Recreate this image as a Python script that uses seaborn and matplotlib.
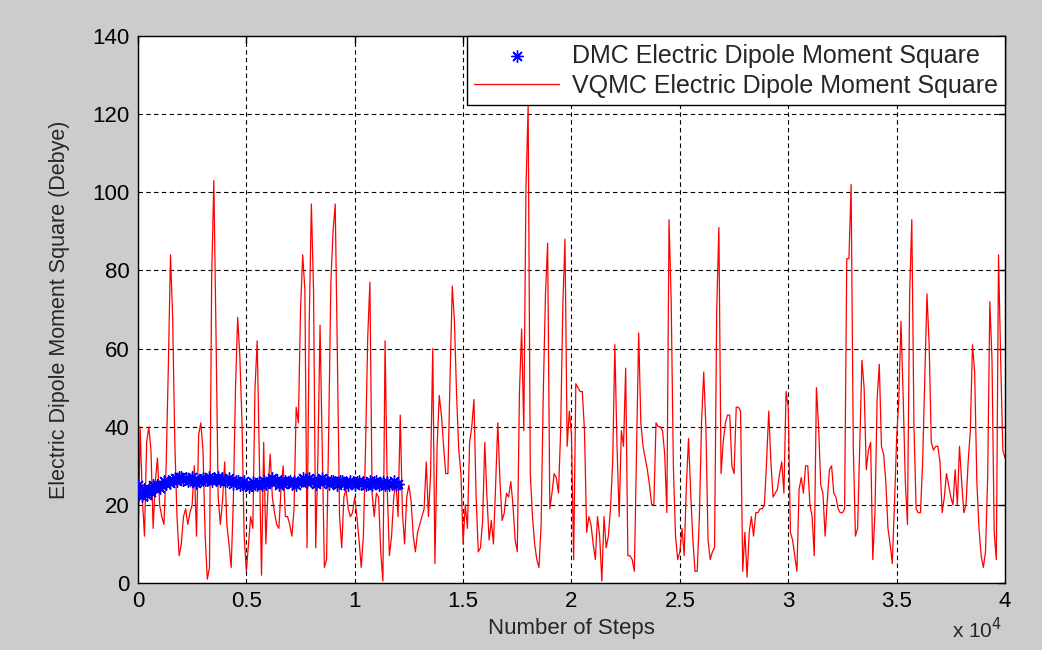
from matplotlib import pyplot as plt
import seaborn as sns
import numpy as np
import pandas as pd

# VQMC hodnoty, jedna hodnota kazdych 100 kroku (0 .. 40000)
vqmc_vals = [
    6, 40, 22, 12, 36, 40, 34, 14, 26, 32,
    20, 17, 15, 30, 55, 84, 68, 36, 17, 7,
    10, 17, 19, 15, 18, 20, 30, 12, 38, 41,
    34, 12, 1, 4, 78, 103, 64, 22, 15, 21,
    31, 15, 10, 4, 21, 50, 68, 58, 41, 12,
    3, 10, 17, 14, 50, 62, 32, 2, 36, 10,
    24, 33, 22, 18, 15, 14, 24, 30, 17, 17,
    15, 12, 19, 45, 41, 70, 84, 75, 9, 66,
    97, 75, 9, 32, 66, 35, 4, 6, 39, 77,
    90, 97, 58, 17, 9, 22, 24, 19, 17, 18,
    22, 17, 11, 4, 12, 35, 63, 77, 23, 17,
    23, 22, 8, 0.5, 62, 24, 7, 12, 22, 26,
    17, 43, 18, 10, 22, 25, 21, 12, 8, 13,
    15, 17, 19, 31, 17, 28, 60, 5, 35, 48,
    43, 35, 28, 28, 53, 76, 67, 48, 34, 28,
    10, 20, 14, 36, 40, 47, 22, 8, 9, 16,
    36, 22, 11, 16, 10, 25, 41, 26, 16, 18,
    23, 22, 26, 20, 11, 8, 49, 65, 39, 101,
    122, 28, 17, 10, 6, 4, 15, 49, 74, 87,
    19, 23, 28, 27, 23, 39, 71, 88, 35, 44,
    38, 6, 51, 50, 49, 49, 39, 13, 17, 15,
    10, 6, 17, 12, 0.5, 17, 9, 12, 19, 31,
    61, 35, 17, 39, 35, 55, 7, 7, 6, 3,
    33, 64, 41, 35, 32, 29, 25, 20, 20, 41,
    40, 40, 39, 33, 18, 93, 72, 30, 12, 6,
    8, 14, 7, 25, 37, 23, 11, 3, 3, 17,
    41, 54, 40, 11, 6, 8, 9, 70, 91, 28,
    36, 41, 43, 43, 30, 28, 45, 45, 44, 3,
    13, 1.5, 13, 17, 12, 18, 18, 19, 19, 20,
    31, 44, 31, 22, 23, 24, 28, 31, 23, 49,
    45, 13, 11, 7, 3, 24, 27, 23, 30, 30,
    20, 17, 7, 50, 40, 25, 23, 12, 21, 29,
    30, 23, 22, 19, 18, 18, 19, 83, 83, 102,
    35, 12, 14, 35, 57, 50, 29, 34, 36, 6,
    18, 47, 56, 35, 33, 26, 14, 10, 5, 20,
    37, 47, 67, 48, 26, 15, 74, 93, 40, 19,
    18, 18, 31, 52, 74, 61, 36, 34, 35, 35,
    31, 18, 22, 28, 25, 22, 20, 29, 20, 35,
    26, 18, 20, 31, 39, 61, 54, 26, 14, 7,
    4, 8, 27, 72, 57, 13, 6, 84, 57, 34,
    32,
]
vqmc_steps = np.arange(len(vqmc_vals)) * 100

# DMC hodnoty, kazdych 100 kroku (0 .. 12000)
dmc_vals = [
    25.0, 23.0, 22.2, 24.1, 22.5, 24.0, 23.3, 25.1, 24.2, 25.0,
    24.4, 25.2, 26.0, 25.3, 26.1, 25.5, 26.3, 27.0, 26.2, 27.2,
    27.1, 26.4, 27.0, 26.2, 26.5, 27.1, 26.3, 25.6, 26.2, 26.4,
    27.0, 26.3, 26.5, 27.1, 26.2, 27.0, 26.4, 27.2, 26.1, 26.9,
    26.2, 26.0, 26.8, 26.1, 25.4, 26.0, 26.2, 25.1, 25.3, 26.0,
    25.2, 24.6, 25.1, 25.9, 25.3, 25.0, 25.8, 25.2, 26.0, 25.4,
    25.9, 26.1, 26.8, 26.0, 26.3, 25.2, 26.1, 25.4, 26.0, 25.8,
    26.1, 25.3, 26.0, 25.2, 25.9, 26.2, 26.9, 26.1, 25.8, 26.8,
    26.0, 26.2, 25.3, 26.0, 26.1, 26.8, 26.0, 26.2, 25.4, 26.0,
    26.1, 25.9, 25.2, 26.0, 26.2, 25.3, 25.9, 25.2, 26.0, 25.8,
    25.2, 25.9, 26.1, 25.3, 25.8, 25.1, 25.4, 26.0, 25.2, 25.9,
    26.0, 25.1, 25.3, 25.9, 25.0, 25.8, 25.2, 25.4, 26.0, 25.1,
    25.3,
]
dmc_steps = np.arange(len(dmc_vals)) * 100

xtick_pos = [0, 5000, 10000, 15000, 20000, 25000, 30000, 35000, 40000]
xtick_labels = ['0', '0.5', '1', '1.5', '2', '2.5', '3', '3.5', '4']
ytick_pos = [0, 20, 40, 60, 80, 100, 120, 140]

df_vqmc = pd.DataFrame({'step': vqmc_steps, 'val': vqmc_vals})
df_dmc = pd.DataFrame({'step': dmc_steps, 'val': dmc_vals})

sns.set_theme(style='white')
plt.rcParams['font.family'] = ['Liberation Sans', 'DejaVu Sans']

fig = plt.figure(figsize=(10.42, 6.5), dpi=100, facecolor='#cccccc')
ax = fig.add_axes([0.1324, 0.103, 0.8321, 0.8416])
ax.set_facecolor('white')

# asterisk jako v matlabu (plus + x)
sns.scatterplot(data=df_dmc, x='step', y='val', ax=ax, marker=(8, 2, 0), color='blue',
                s=70, linewidth=1.0, zorder=3,
                label='DMC Electric Dipole Moment Square')
sns.lineplot(data=df_vqmc, x='step', y='val', ax=ax, color='red', linewidth=0.9,
             estimator=None, sort=False, zorder=2,
             label='VQMC Electric Dipole Moment Square')

ax.set_xlim(0, 40000)
ax.set_ylim(0, 140)
ax.set_xticks(xtick_pos)
ax.set_xticklabels(xtick_labels)
ax.set_yticks(ytick_pos)
ax.tick_params(direction='in', top=True, right=True, length=5, width=1,
               labelsize=16, colors='black', pad=6)
ax.grid(True, color='black', linestyle=(0, (4, 3)), linewidth=0.8)
for sp in ax.spines.values():
    sp.set_color('black')
    sp.set_linewidth(1)

ax.set_xlabel('Number of Steps', fontsize=16, labelpad=4)
ax.set_ylabel('Electric Dipole Moment Square (Debye)', fontsize=15.5, labelpad=16)
fig.text(0.962, 0.012, r'x 10$^4$', ha='right', va='bottom', fontsize=15)

leg = ax.legend(loc='upper right', borderaxespad=0, fancybox=False, framealpha=1,
                edgecolor='black', handlelength=3.4, handletextpad=0.5,
                borderpad=0.3, labelspacing=0.25, prop={'size': 18})
leg.get_frame().set_linewidth(1)

plt.savefig('out.png', dpi=100, facecolor=fig.get_facecolor())
